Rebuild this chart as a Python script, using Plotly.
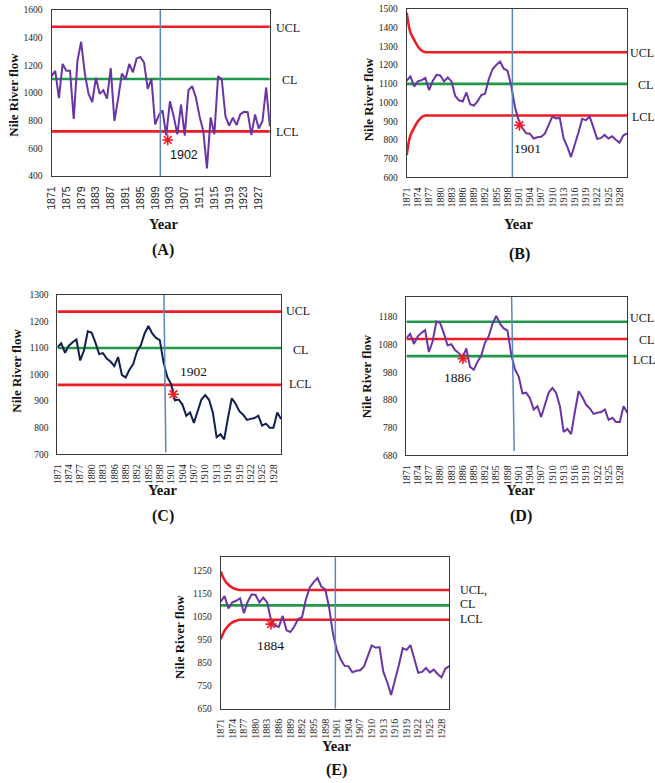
import plotly.graph_objects as go

W, H = 655, 783

years = list(range(1871, 1931))

# Panel A: annual Nile River flow
nile_flow = [1120, 1160, 963, 1210, 1160, 1160, 813, 1230, 1370, 1140,
             995, 935, 1110, 994, 1020, 960, 1180, 799, 958, 1140,
             1100, 1210, 1150, 1250, 1260, 1220, 1030, 1100, 774, 840,
             874, 694, 940, 833, 701, 916, 692, 1020, 1050, 969,
             831, 726, 456, 824, 702, 1120, 1100, 832, 764, 821,
             768, 845, 864, 862, 698, 845, 744, 796, 1040, 759]

# Panels B and E: smoothed statistic
smooth_be = [1116, 1140, 1086, 1113, 1120, 1131, 1066, 1117, 1148, 1145,
             1113, 1134, 1113, 1035, 1012, 1006, 1054, 991, 984, 1008,
             1040, 1048, 1126, 1178, 1201, 1219, 1181, 1170, 1090, 975,
             905, 864, 836, 834, 808, 815, 817, 834, 880, 925,
             915, 918, 810, 765, 709, 772, 840, 913, 906, 926,
             866, 806, 810, 827, 808, 820, 801, 786, 824, 835]

# Panels C and D: smoothed statistic
smooth_cd = [1103, 1118, 1082, 1109, 1122, 1132, 1053, 1091, 1163, 1158,
             1121, 1077, 1081, 1060, 1049, 1032, 1066, 999, 989, 1018,
             1040, 1087, 1110, 1155, 1183, 1155, 1138, 1130, 1045, 990,
             964, 903, 906, 886, 845, 857, 818, 866, 906, 923,
             905, 857, 764, 775, 756, 837, 911, 890, 862, 849,
             829, 833, 836, 845, 808, 815, 800, 800, 857, 833]

# Control limits
a_ucl, a_cl, a_lcl = 1479, 1101, 723
b_ucl_start = [1480, 1375, 1335, 1300, 1278]
b_lcl_start = [720, 825, 865, 900, 922]
b_ucl_flat, b_cl, b_lcl_flat = 1269, 1100, 931
c_ucl, c_cl, c_lcl = 1237, 1100, 961
d_ucl, d_cl, d_lcl = 1162, 1100, 1038
e_ucl_start = [1248, 1210, 1190, 1177, 1170]
e_lcl_start = [952, 990, 1012, 1026, 1033]
e_ucl_flat, e_cl, e_lcl_flat = 1167, 1100, 1037

# Signal points and labels
signals = {
    "A": dict(year=1902.4, value=661, label="1902", lx=1906.9, ly=554),
    "B": dict(year=1901.2, value=879, label="1901", lx=1903.3, ly=753),
    "C": dict(year=1901.6, value=926, label="1902", lx=1907.0, ly=1010),
    "D": dict(year=1886.1, value=1029, label="1886", lx=1884.6, ly=961),
    "E": dict(year=1884.0, value=1018, label="1884", lx=1883.8, ly=923),
}
change_lines = {"A": (1900.4, 1900.4, 0.0), "B": (1899.3, 1899.3, 0.0),
                "C": (1899.1, 1899.6, 0.01), "D": (1899.1, 1899.8, 0.027),
                "E": (1900.6, 1900.6, 0.0)}

RED = "#ee1c25"
GREEN = "#22994a"
PURPLE = "#6a34a6"
NAVY = "#0e1f50"
VBLUE = "#5a86bd"
SERIF = "Liberation Serif"
SANS = "Liberation Sans"


def fx(px):
    return px / W


def fy(py):
    return 1 - py / H


panels = {
    "A": dict(ax="", dom_x=(45, 265.7), dom_y=(5, 173.3), yr=(400, 1600),
              yticks=list(range(400, 1601, 200)), xstep=4, xfont=SANS, xsize=10.5),
    "B": dict(ax="2", dom_x=(404, 626.7), dom_y=(4, 174.7), yr=(600, 1500),
              yticks=list(range(600, 1501, 100)), xstep=3, xfont=SERIF, xsize=10),
    "C": dict(ax="3", dom_x=(51, 277), dom_y=(293.7, 455), yr=(700, 1300),
              yticks=list(range(700, 1301, 100)), xstep=3, xfont=SERIF, xsize=10),
    "D": dict(ax="4", dom_x=(403.7, 627), dom_y=(295.7, 456), yr=(680, 1252),
              yticks=list(range(680, 1181, 100)), xstep=3, xfont=SERIF, xsize=10),
    "E": dict(ax="5", dom_x=(216, 447), dom_y=(559.3, 712.7), yr=(650, 1310),
              yticks=list(range(650, 1251, 100)), xstep=3, xfont=SERIF, xsize=10),
}

fig = go.Figure()


def add_line(key, yvals, color, width, shape="linear"):
    a = panels[key]["ax"]
    fig.add_trace(go.Scatter(x=years, y=yvals, mode="lines",
                             line=dict(color=color, width=width, shape=shape),
                             xaxis="x" + a, yaxis="y" + a, showlegend=False,
                             hoverinfo="skip"))


n = len(years)
# A
add_line("A", [a_ucl] * n, RED, 2.6)
add_line("A", [a_cl] * n, GREEN, 2.6)
add_line("A", [a_lcl] * n, RED, 2.6)
add_line("A", nile_flow, PURPLE, 2.0)
# B
add_line("B", b_ucl_start + [b_ucl_flat] * (n - len(b_ucl_start)), RED, 2.6, "spline")
add_line("B", [b_cl] * n, GREEN, 2.6)
add_line("B", b_lcl_start + [b_lcl_flat] * (n - len(b_lcl_start)), RED, 2.6, "spline")
add_line("B", smooth_be, PURPLE, 2.0)
# C
add_line("C", [c_ucl] * n, RED, 2.6)
add_line("C", [c_cl] * n, GREEN, 2.6)
add_line("C", [c_lcl] * n, RED, 2.6)
add_line("C", smooth_cd, NAVY, 2.0)
# D
add_line("D", [d_ucl] * n, GREEN, 2.6)
add_line("D", [d_cl] * n, RED, 2.6)
add_line("D", [d_lcl] * n, GREEN, 2.6)
add_line("D", smooth_cd, PURPLE, 2.0)
# E
add_line("E", e_ucl_start + [e_ucl_flat] * (n - len(e_ucl_start)), RED, 2.6, "spline")
add_line("E", [e_cl] * n, GREEN, 2.6)
add_line("E", e_lcl_start + [e_lcl_flat] * (n - len(e_lcl_start)), RED, 2.6, "spline")
add_line("E", smooth_be, PURPLE, 2.0)

annotations = []
shapes = []
layout = {}

for key, p in panels.items():
    a = p["ax"]
    s = signals[key]
    # star marker
    fig.add_trace(go.Scatter(x=[s["year"]], y=[s["value"]], mode="markers",
                             marker=dict(symbol="asterisk-open", size=9, color=RED,
                                         line=dict(color=RED, width=1.6)),
                             xaxis="x" + a, yaxis="y" + a, showlegend=False,
                             hoverinfo="skip"))
    annotations.append(dict(x=s["lx"], y=s["ly"], xref="x" + a, yref="y" + a,
                            text=s["label"], showarrow=False,
                            font=dict(family=SANS if key == "A" else SERIF,
                                      size=12.5 if key == "A" else 13.5,
                                      color="#111")))
    x0, x1, yb = change_lines[key]
    shapes.append(dict(type="line", xref="x" + a, yref="y" + a + " domain",
                       x0=x0, x1=x1, y0=1, y1=yb,
                       line=dict(color=VBLUE, width=1.5)))
    ticks_x = list(range(1871, 1931, p["xstep"]))
    layout["xaxis" + a] = dict(
        domain=[fx(p["dom_x"][0]), fx(p["dom_x"][1])], range=[1871, 1930],
        anchor="y" + a, tickvals=ticks_x, ticktext=[str(t) for t in ticks_x],
        tickangle=-90, tickfont=dict(family=p["xfont"], size=p["xsize"], color="#222"),
        showgrid=False, zeroline=False, showline=True, mirror=True,
        linecolor="#3a3a3a", linewidth=1.3, ticks="", ticklabelstandoff=5)
    layout["yaxis" + a] = dict(
        domain=[fy(p["dom_y"][1]), fy(p["dom_y"][0])], range=list(p["yr"]),
        anchor="x" + a, tickvals=p["yticks"], ticktext=[str(t) for t in p["yticks"]],
        tickfont=dict(family=SERIF, size=9.5, color="#222"),
        showgrid=False, zeroline=False, showline=True, mirror=True,
        linecolor="#3a3a3a", linewidth=1.3, ticks="", ticklabelstandoff=6)


def ptext(x, y, text, size, bold=False, angle=0, anchor="center", family=SERIF):
    annotations.append(dict(x=fx(x), y=fy(y), xref="paper", yref="paper",
                            text=("<b>%s</b>" % text) if bold else text,
                            showarrow=False, textangle=angle, xanchor=anchor,
                            yanchor="middle",
                            font=dict(family=family, size=size, color="#111")))


# y-axis titles
for (x, y) in [(7, 91), (365.5, 96), (9.5, 370), (363, 376), (175, 640)]:
    ptext(x, y, "Nile River flow", 13, bold=True, angle=-90)
# x-axis titles
for (x, y) in [(159, 222), (518, 222), (158, 491), (520, 491), (334, 751)]:
    ptext(x, y, "Year", 14.5, bold=True)
# panel letters
for (x, y, t) in [(158, 248, "(A)"), (518, 252, "(B)"), (158, 518, "(C)"),
                  (520, 518, "(D)"), (333, 775, "(E)")]:
    ptext(x, y, t, 16, bold=True)
# limit labels
for (x, y, t) in [(284, 23, "UCL"), (286, 76, "CL"), (284, 129, "LCL"),
                  (642, 49, "UCL"), (645, 81, "CL"), (643, 113, "LCL"),
                  (294, 310, "UCL"), (297, 349, "CL"), (297, 384, "LCL"),
                  (642, 317, "UCL"), (646, 339, "CL"), (644, 360, "LCL")]:
    ptext(x, y, t, 12)
for (y, t) in [(593, "UCL,"), (607, "CL"), (622, "LCL")]:
    ptext(456, y, t, 12, anchor="left")

fig.update_layout(width=W, height=H, margin=dict(l=0, r=0, t=0, b=0),
                  paper_bgcolor="white", plot_bgcolor="white",
                  showlegend=False, annotations=annotations, shapes=shapes,
                  **layout)

fig.write_html("out.html", config={"displayModeBar": False},
               post_script="document.body.style.margin='0';"
                           "document.body.style.overflow='hidden';")
